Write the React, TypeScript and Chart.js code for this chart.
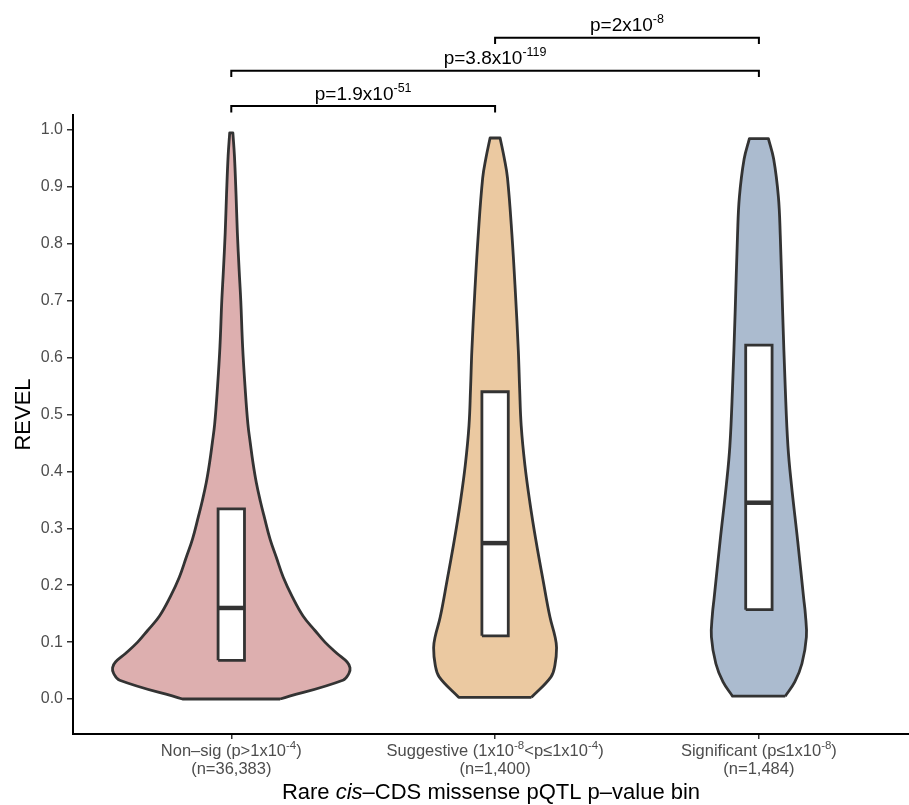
import React, { useEffect, useRef } from "react";
import { Chart, registerables } from "chart.js";
Chart.register(...registerables);

// ---------- data ----------
const categoryPositions = [1, 2, 3];
const categoryColors = ["#DDAFAF", "#EBC9A1", "#ABBBCF"];

// tick label first line (rich parts) and second line
type Part = { t: string; sup?: boolean; it?: boolean };
const tickLine1: Part[][] = [
  [{ t: "Non\u2013sig (p>1x10" }, { t: "-4", sup: true }, { t: ")" }],
  [{ t: "Suggestive (1x10" }, { t: "-8", sup: true }, { t: "<p\u22641x10" }, { t: "-4", sup: true }, { t: ")" }],
  [{ t: "Significant (p\u22641x10" }, { t: "-8", sup: true }, { t: ")" }],
];
const tickLine2 = ["(n=36,383)", "(n=1,400)", "(n=1,484)"];

const xTitle: Part[] = [
  { t: "Rare " },
  { t: "cis", it: true },
  { t: "\u2013CDS missense pQTL p\u2013value bin" },
];
const yTitle = "REVEL";

// violin outlines: REVEL value and half-width (x units)
const violinNonSigY = [0.0, 0.033, 0.045, 0.055, 0.065, 0.08, 0.1, 0.12, 0.146, 0.18, 0.214, 0.25, 0.281, 0.32, 0.348, 0.38, 0.416, 0.45, 0.483, 0.55, 0.619, 0.7, 0.752, 0.82, 0.887, 0.954, 0.995];
const violinNonSigW = [0.185, 0.423, 0.446, 0.45, 0.439, 0.401, 0.355, 0.318, 0.272, 0.231, 0.197, 0.17, 0.147, 0.125, 0.11, 0.095, 0.082, 0.072, 0.063, 0.052, 0.043, 0.036, 0.03, 0.023, 0.018, 0.012, 0.006];

const violinSuggY = [0.003, 0.039, 0.06, 0.09, 0.11, 0.144, 0.211, 0.278, 0.345, 0.411, 0.48, 0.546, 0.613, 0.714, 0.815, 0.916, 0.95, 0.986];
const violinSuggW = [0.138, 0.212, 0.227, 0.233, 0.227, 0.208, 0.181, 0.155, 0.132, 0.113, 0.099, 0.093, 0.088, 0.077, 0.064, 0.047, 0.035, 0.019];

const violinSigY = [0.005, 0.03, 0.062, 0.109, 0.15, 0.176, 0.278, 0.378, 0.445, 0.546, 0.68, 0.815, 0.882, 0.949, 0.985];
const violinSigW = [0.1, 0.136, 0.163, 0.18, 0.176, 0.17, 0.147, 0.123, 0.11, 0.1, 0.09, 0.081, 0.074, 0.056, 0.036];

// box plots
const boxQ1 = [0.068, 0.111, 0.157];
const boxMedian = [0.16, 0.274, 0.345];
const boxQ3 = [0.334, 0.54, 0.622];
const boxHalfWidth = 0.05;

// y ticks
const yTicks = [0, 0.1, 0.2, 0.3, 0.4, 0.5, 0.6, 0.7, 0.8, 0.9, 1.0];

// significance brackets
const bracketFrom = [1, 1, 2];
const bracketTo = [2, 3, 3];
const bracketY = [1.042, 1.104, 1.162];
const bracketMantissa = ["1.9", "3.8", "2"];
const bracketExponent = ["-51", "-119", "-8"];

// ---------- helpers ----------
const FONT = "'Liberation Sans', Arial, Helvetica, sans-serif";

function violinPoints(c: number, ys: number[], ws: number[]) {
  const pts: { x: number; y: number }[] = [];
  const n = ys.length;
  pts.push({ x: c + ws[0], y: ys[0] });
  for (let i = 0; i < n; i++) pts.push({ x: c + ws[i], y: ys[i] });
  pts.push({ x: c + ws[n - 1], y: ys[n - 1] });
  pts.push({ x: c - ws[n - 1], y: ys[n - 1] });
  for (let i = n - 1; i >= 0; i--) pts.push({ x: c - ws[i], y: ys[i] });
  pts.push({ x: c - ws[0], y: ys[0] });
  pts.push({ x: c + ws[0], y: ys[0] });
  pts.push({ x: c + ws[0], y: ys[0] });
  return pts;
}

function boxPoints(c: number, q1: number, q3: number, hw: number) {
  return [
    { x: c - hw, y: q1 },
    { x: c + hw, y: q1 },
    { x: c + hw, y: q3 },
    { x: c - hw, y: q3 },
    { x: c - hw, y: q1 },
  ];
}

function drawRich(
  ctx: CanvasRenderingContext2D,
  parts: Part[],
  cx: number,
  baseline: number,
  size: number,
  supSize: number,
  color: string
) {
  const fontFor = (p: Part) =>
    `${p.it ? "italic " : ""}${p.sup ? supSize : size}px ${FONT}`;
  const widths = parts.map((p) => {
    ctx.font = fontFor(p);
    return ctx.measureText(p.t).width;
  });
  const total = widths.reduce((a, b) => a + b, 0);
  let x = cx - total / 2;
  ctx.fillStyle = color;
  ctx.textAlign = "left";
  ctx.textBaseline = "alphabetic";
  parts.forEach((p, i) => {
    ctx.font = fontFor(p);
    ctx.fillText(p.t, x, p.sup ? baseline - size * 0.42 : baseline);
    x += widths[i];
  });
}

const annotPlugin = {
  id: "annot",
  afterDraw(chart: any) {
    const { ctx, chartArea } = chart;
    const xs = chart.scales.x;
    const ys = chart.scales.y;
    ctx.save();
    // x tick labels
    categoryPositions.forEach((c, i) => {
      const px = xs.getPixelForValue(c);
      drawRich(ctx, tickLine1[i], px, chartArea.bottom + 22, 16.5, 11.5, "#4d4d4d");
      drawRich(ctx, [{ t: tickLine2[i] }], px, chartArea.bottom + 40, 16.5, 11.5, "#4d4d4d");
    });
    // x title
    drawRich(ctx, xTitle, (chartArea.left + chartArea.right) / 2, chartArea.bottom + 65, 22, 15, "#000");
    // y title
    ctx.save();
    ctx.translate(30, (chartArea.top + chartArea.bottom) / 2 - 10);
    ctx.rotate(-Math.PI / 2);
    drawRich(ctx, [{ t: yTitle }], 0, 0, 22, 15, "#000");
    ctx.restore();
    // brackets
    ctx.strokeStyle = "#000";
    ctx.lineWidth = 2;
    bracketY.forEach((bv, i) => {
      const x1 = xs.getPixelForValue(bracketFrom[i]);
      const x2 = xs.getPixelForValue(bracketTo[i]);
      const yLine = ys.getPixelForValue(bv);
      const yTick = ys.getPixelForValue(bv - 0.011);
      ctx.beginPath();
      ctx.moveTo(x1, yTick);
      ctx.lineTo(x1, yLine);
      ctx.lineTo(x2, yLine);
      ctx.lineTo(x2, yTick);
      ctx.stroke();
      drawRich(
        ctx,
        [{ t: `p=${bracketMantissa[i]}x10` }, { t: bracketExponent[i], sup: true }],
        (x1 + x2) / 2,
        yLine - 6.5,
        19,
        12.5,
        "#000"
      );
    });
    ctx.restore();
  },
};

export default function App() {
  const ref = useRef<HTMLCanvasElement | null>(null);
  useEffect(() => {
    document.body.style.margin = "0";
    const canvas = ref.current;
    if (!canvas) return;
    const violins = [
      [violinNonSigY, violinNonSigW],
      [violinSuggY, violinSuggW],
      [violinSigY, violinSigW],
    ];
    const datasets: any[] = [];
    violins.forEach(([yv, wv], i) => {
      datasets.push({
        data: violinPoints(categoryPositions[i], yv, wv),
        borderColor: "#333333",
        borderWidth: 2.8,
        backgroundColor: categoryColors[i],
        fill: "shape",
        tension: 0.4,
        pointRadius: 0,
        borderJoinStyle: "round",
        order: 3,
      });
    });
    categoryPositions.forEach((c, i) => {
      datasets.push({
        data: boxPoints(c, boxQ1[i], boxQ3[i], boxHalfWidth),
        borderColor: "#333333",
        borderWidth: 2.8,
        backgroundColor: "#ffffff",
        fill: "shape",
        tension: 0,
        pointRadius: 0,
        borderJoinStyle: "miter",
        order: 2,
      });
      datasets.push({
        data: [
          { x: c - boxHalfWidth, y: boxMedian[i] },
          { x: c + boxHalfWidth, y: boxMedian[i] },
        ],
        borderColor: "#333333",
        borderWidth: 4.5,
        fill: false,
        tension: 0,
        pointRadius: 0,
        borderCapStyle: "butt",
        order: 1,
      });
    });

    const chart = new Chart(canvas, {
      type: "line",
      data: { datasets },
      plugins: [annotPlugin],
      options: {
        responsive: false,
        animation: false,
        events: [],
        layout: { padding: { top: 115, left: 0, right: 0, bottom: 0 } },
        plugins: { legend: { display: false }, tooltip: { enabled: false } },
        scales: {
          x: {
            type: "linear",
            min: 0.4,
            max: 3.569,
            afterBuildTicks: (s: any) => {
              s.ticks = categoryPositions.map((v) => ({ value: v }));
            },
            afterFit: (s: any) => {
              s.height = 71;
            },
            ticks: { display: false },
            grid: {
              drawOnChartArea: false,
              drawTicks: true,
              tickLength: 5,
              color: "#333333",
              lineWidth: 1.5,
            },
            border: { display: true, color: "#000", width: 2 },
          },
          y: {
            type: "linear",
            min: -0.0615,
            max: 1.0264,
            afterBuildTicks: (s: any) => {
              s.ticks = yTicks.map((v) => ({ value: v }));
            },
            afterFit: (s: any) => {
              s.width = 73;
            },
            ticks: {
              callback: (v: any) => Number(v).toFixed(1),
              color: "#4d4d4d",
              font: { family: FONT, size: 16 },
              padding: 4,
            },
            grid: {
              drawOnChartArea: false,
              drawTicks: true,
              tickLength: 6,
              color: "#333333",
              lineWidth: 1.5,
            },
            border: { display: true, color: "#000", width: 2 },
          },
        },
      },
    });
    return () => chart.destroy();
  }, []);
  return (
    <div style={{ width: 909, height: 805 }}>
      <canvas ref={ref} width={909} height={805} style={{ display: "block" }} />
    </div>
  );
}
